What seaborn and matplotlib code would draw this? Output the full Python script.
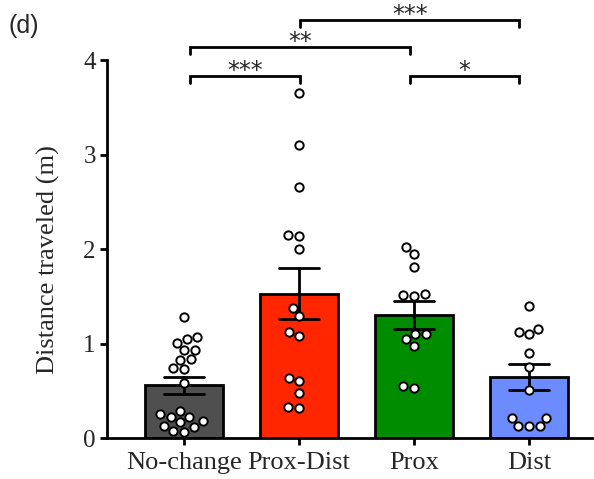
import numpy as np
import pandas as pd
import matplotlib
matplotlib.use("Agg")
import matplotlib.pyplot as plt
import seaborn as sns

categories = ["No-change", "Prox-Dist", "Prox", "Dist"]
no_change = [1.28, 1.07, 1.05, 1.01, 0.94, 0.93, 0.84, 0.83, 0.74, 0.73, 0.59,
             0.29, 0.26, 0.23, 0.23, 0.18, 0.17, 0.13, 0.12, 0.08, 0.07]
prox_dist = [3.65, 3.10, 2.66, 2.15, 2.14, 2.00, 1.38, 1.29, 1.13, 1.08,
             0.64, 0.61, 0.48, 0.33, 0.32]
prox = [2.02, 1.95, 1.81, 1.53, 1.52, 1.51, 1.10, 1.10, 1.05, 0.98, 0.55, 0.53]
dist = [1.40, 1.16, 1.13, 1.10, 0.90, 0.76, 0.51, 0.22, 0.22, 0.13, 0.13, 0.13]
colors = ["#4f4f4f", "#ff2600", "#008c00", "#6b8bff"]

# significance comparisons: (group i, group j, label, level)
comparisons = [("No-change", "Prox-Dist", "***", 0),
               ("Prox", "Dist", "*", 0),
               ("No-change", "Prox", "**", 1),
               ("Prox-Dist", "Dist", "***", 2)]

df = pd.DataFrame({
    "group": (["No-change"] * len(no_change) + ["Prox-Dist"] * len(prox_dist)
              + ["Prox"] * len(prox) + ["Dist"] * len(dist)),
    "value": no_change + prox_dist + prox + dist,
})

sns.set_style("ticks")
fig = plt.figure(figsize=(5.94, 4.79), dpi=100)
ax = fig.add_axes([0.180, 0.0846, 0.817, 0.7901])

sns.barplot(data=df, x="group", y="value", hue="group", order=categories,
            hue_order=categories, palette=colors, saturation=1, legend=False,
            width=0.68, errorbar="se", capsize=0.35, edgecolor="black",
            linewidth=2.0, err_kws={"color": "black", "linewidth": 2.0},
            ax=ax, zorder=2)
sns.swarmplot(data=df, x="group", y="value", order=categories, color="white",
              edgecolor="black", linewidth=1.4, size=6.0, ax=ax, zorder=4)

ax.set_ylim(0, 4)
ax.set_xlim(-0.67, 3.55)
ax.set_yticks([0, 1, 2, 3, 4])
ax.set_xlabel("")
ax.set_ylabel("Distance traveled (m)", fontsize=19, family="Liberation Serif")
ax.yaxis.set_label_coords(-0.097, 0.472)
for lab in ax.get_yticklabels():
    lab.set_fontfamily("Liberation Serif")
    lab.set_fontsize(18)
for lab in ax.get_xticklabels():
    lab.set_fontfamily("Liberation Serif")
    lab.set_fontsize(19)
ax.tick_params(axis="both", width=2.0, length=5, color="black")
ax.tick_params(axis="y", pad=3)
ax.tick_params(axis="x", pad=5)
for s in ["left", "bottom"]:
    ax.spines[s].set_linewidth(2.0)
    ax.spines[s].set_color("black")
sns.despine(ax=ax)

# bracket end positions (slightly offset from bar centres, as in the source)
bx = {"No-change": 0.05, "Prox-Dist": 1.01, "Prox": 1.965, "Dist": 2.915}
levels = [3.83, 4.14, 4.425]
tick = 0.075
for a, b, lab, lev in comparisons:
    y = levels[lev]
    ax.plot([bx[a], bx[a], bx[b], bx[b]], [y - tick, y, y, y - tick],
            color="black", lw=2.0, clip_on=False, solid_joinstyle="miter")
    ax.text((bx[a] + bx[b]) / 2, y - 0.075, lab, ha="center", va="bottom",
            fontsize=17, family="DejaVu Sans", clip_on=False)

fig.text(8 / 594, 1 - 14 / 479, "(d)", ha="left", va="top", fontsize=18,
         family="Liberation Sans")

fig.savefig("out.png", dpi=100)
